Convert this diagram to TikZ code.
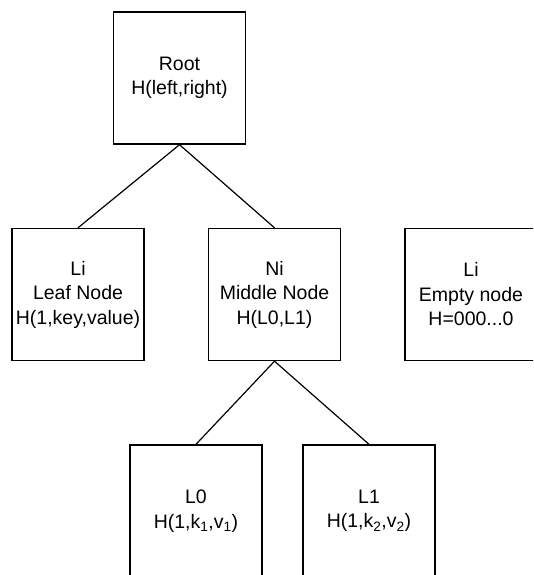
\documentclass[tikz,border=0pt]{standalone}
\usepackage{fontspec}
\setmainfont{Liberation Sans}
\begin{document}
\begin{tikzpicture}[x=1pt,y=-1pt,
  box/.style={draw, line width=1.4pt, minimum width=132pt, minimum height=132pt,
    align=center, inner sep=0pt, font=\fontsize{19.5}{24.5}\selectfont},
  link/.style={draw, line width=1.2pt}]
\useasboundingbox (0,0) rectangle (533,575);
\clip (0,0) rectangle (533,575);
\node[box] (root) at (179.5,78) {Root\\H(left,right)};
\node[box] (leaf) at (78,294.5) {Li\\Leaf Node\\H(1,key,value)};
\node[box] (ni) at (274.5,294.5) {Ni\\Middle Node\\H(L0,L1)};
\node[box] (empty) at (471,294.5) {Li\\Empty node\\H=000...0};
\node[box] (l0) at (196,511) {L0\\H(1,k\textsubscript{1},v\textsubscript{1})};
\node[box] (l1) at (369,511) {L1\\H(1,k\textsubscript{2},v\textsubscript{2})};
\draw[link] (root.south) -- (leaf.north);
\draw[link] (root.south) -- (ni.north);
\draw[link] (ni.south) -- (l0.north);
\draw[link] (ni.south) -- (l1.north);
\end{tikzpicture}
\end{document}
